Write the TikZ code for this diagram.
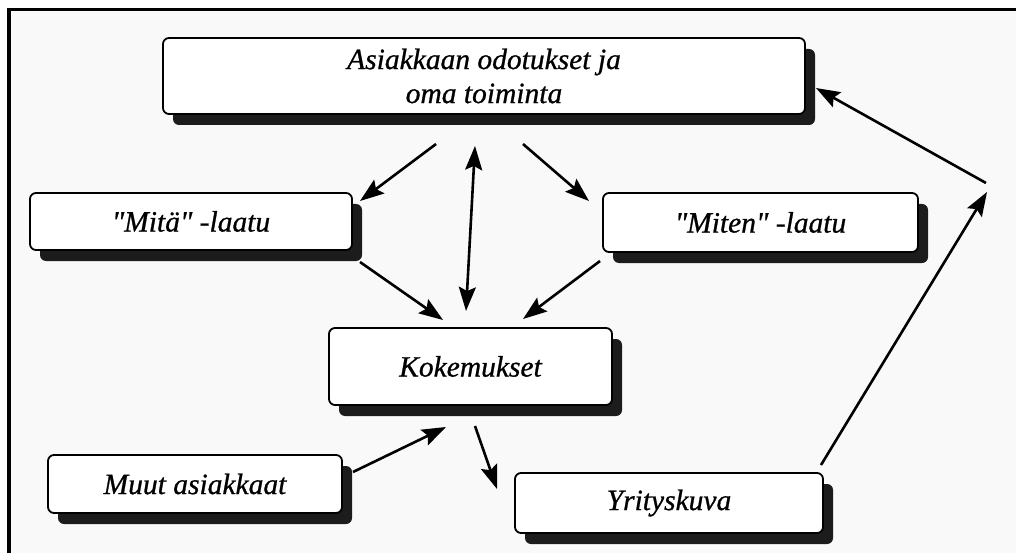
\documentclass[tikz,border=0pt]{standalone}
\usepackage{fontspec}
\setmainfont{Liberation Serif}
\newfontfamily\boxfont[FakeBold=0.8]{Liberation Serif}
\usetikzlibrary{arrows.meta,shadows}
\definecolor{paper}{HTML}{F9F9F9}
\definecolor{shade}{HTML}{1C1C1C}
\begin{document}
\begin{tikzpicture}[x=1pt,y=-1pt,
  box/.style={draw=black, line width=1.8pt, fill=white, rounded corners=6pt,
    inner sep=0pt, align=center,
    font=\boxfont\fontsize{29.5}{34}\selectfont\itshape,
    drop shadow={shadow xshift=10pt, shadow yshift=-11pt, fill=shade, opacity=1}},
  arr/.style={line width=2.6pt, -{Stealth[length=24pt,width=17pt,inset=4pt]}},
  darr/.style={line width=2.6pt, {Stealth[length=24pt,width=17pt,inset=4pt]}-{Stealth[length=24pt,width=17pt,inset=4pt]}}]
  % page and frame
  \useasboundingbox (0,0) rectangle (1016,553);
  \fill[white] (0,0) rectangle (1016,553);
  \fill[paper] (9,10) rectangle (1016,553);
  \draw[line width=3.5pt] (9,553) -- (9,9.5) -- (1016,9.5);

  % boxes
  \node[box, minimum width=642pt, minimum height=76pt] (top) at (484,76)
    {Asiakkaan odotukset ja\\oma toiminta};
  \node[box, minimum width=322pt, minimum height=57pt] (mita) at (191,221.5)
    {\textquotedbl Mitä\textquotedbl{} -laatu};
  \node[box, minimum width=315pt, minimum height=59pt] (miten) at (760.5,222.5)
    {\textquotedbl Miten\textquotedbl{} -laatu};
  \node[box, minimum width=283pt, minimum height=77pt] (koke) at (470.5,366.5)
    {Kokemukset};
  \node[box, minimum width=294pt, minimum height=58pt] (muut) at (195,484)
    {Muut asiakkaat};
  \node[box, minimum width=308pt, minimum height=60pt] (yrit) at (669,503)
    {Yrityskuva};

  % connector end points
  \coordinate (topL) at (436,144);
  \coordinate (mitaIn) at (360,201);
  \coordinate (topM) at (475,146);
  \coordinate (kokeTop) at (466,311);
  \coordinate (topR) at (523,144);
  \coordinate (mitenIn) at (589,201);
  \coordinate (mitaOut) at (360,262);
  \coordinate (kokeL) at (443,320);
  \coordinate (mitenOut) at (600,261);
  \coordinate (kokeR) at (523,319);
  \coordinate (muutOut) at (353,472);
  \coordinate (kokeBL) at (446,427);
  \coordinate (kokeOut) at (475,426);
  \coordinate (yritIn) at (497,489);
  \coordinate (yritOut) at (821,465);
  \coordinate (bend) at (987,192);
  \coordinate (bendOut) at (986,183);
  \coordinate (topIn) at (816,88);

  % connectors
  \draw[arr] (topL) -- (mitaIn);
  \draw[darr] (topM) -- (kokeTop);
  \draw[arr] (topR) -- (mitenIn);
  \draw[arr] (mitaOut) -- (kokeL);
  \draw[arr] (mitenOut) -- (kokeR);
  \draw[arr] (muutOut) -- (kokeBL);
  \draw[arr] (kokeOut) -- (yritIn);
  \draw[arr] (yritOut) -- (bend);
  \draw[arr] (bendOut) -- (topIn);
\end{tikzpicture}
\end{document}
